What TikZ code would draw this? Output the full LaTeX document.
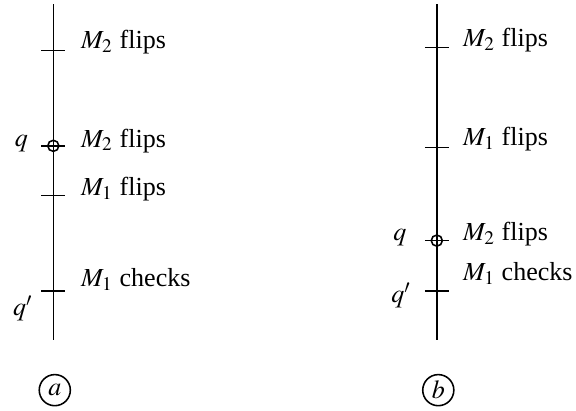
\documentclass[tikz,border=0pt]{standalone}
\usepackage{mathptmx}
\usepackage{fontspec}
\setmainfont{Liberation Serif}
\usetikzlibrary{positioning}

\begin{document}
\begin{tikzpicture}[
  timeline/.style={line width=0.6pt},
  tick/.style={line width=0.6pt},
  state/.style={circle, draw, line width=0.6pt, inner sep=0pt, minimum size=0.15cm},
  event/.style={anchor=west, inner sep=0pt, font=\normalsize},
  qlabel/.style={inner sep=0pt, font=\normalsize},
  case/.style={circle, draw, line width=0.6pt, inner sep=0pt, minimum size=0.42cm}
]
\useasboundingbox (0,0) rectangle (7.78,5.55);
% left run
\coordinate (atop) at (0.72, 5.49);
\coordinate (abot) at (0.72, 0.96);
\draw[timeline] (atop) -- (abot);
\coordinate (a1) at (0.72, 4.87);
\coordinate (a2) at (0.72, 3.58);
\coordinate (a3) at (0.72, 2.91);
\coordinate (a4) at (0.72, 1.62);
\foreach \t in {a1,a2,a3,a4}
  \draw[tick] ([xshift=-0.16cm]\t) -- ([xshift=0.16cm]\t);
\node[state] (qa) at (a2) {};
\node[event] (ea1) at (1.09, 4.98) {$M_2$ flips};
\node[event] (ea2) at (1.09, 3.65) {$M_2$ flips};
\node[event] (ea3) at (1.09, 3.00) {$M_1$ flips};
\node[event] (ea4) at (1.09, 1.77) {$M_1$ checks};
\node[qlabel] (qla) at (0.29, 3.61) {$q$};
\node[qlabel] (qpa) at (0.31, 1.38) {$q'$};
\node[case] (ca) at (0.74, 0.28) {$a$};
% right run
\coordinate (btop) at (5.90, 5.49);
\coordinate (bbot) at (5.90, 0.96);
\draw[timeline] (btop) -- (bbot);
\coordinate (b1) at (5.90, 4.91);
\coordinate (b2) at (5.90, 3.56);
\coordinate (b3) at (5.90, 2.30);
\coordinate (b4) at (5.90, 1.62);
\foreach \t in {b1,b2,b3,b4}
  \draw[tick] ([xshift=-0.16cm]\t) -- ([xshift=0.16cm]\t);
\node[state] (qb) at (b3) {};
\node[event] (eb1) at (6.25, 5.01) {$M_2$ flips};
\node[event] (eb2) at (6.25, 3.67) {$M_1$ flips};
\node[event] (eb3) at (6.25, 2.39) {$M_2$ flips};
\node[event] (eb4) at (6.25, 1.86) {$M_1$ checks};
\node[qlabel] (qlb) at (5.40, 2.34) {$q$};
\node[qlabel] (qpb) at (5.42, 1.56) {$q'$};
\node[case] (cb) at (5.92, 0.28) {$b$};
\end{tikzpicture}
\end{document}
